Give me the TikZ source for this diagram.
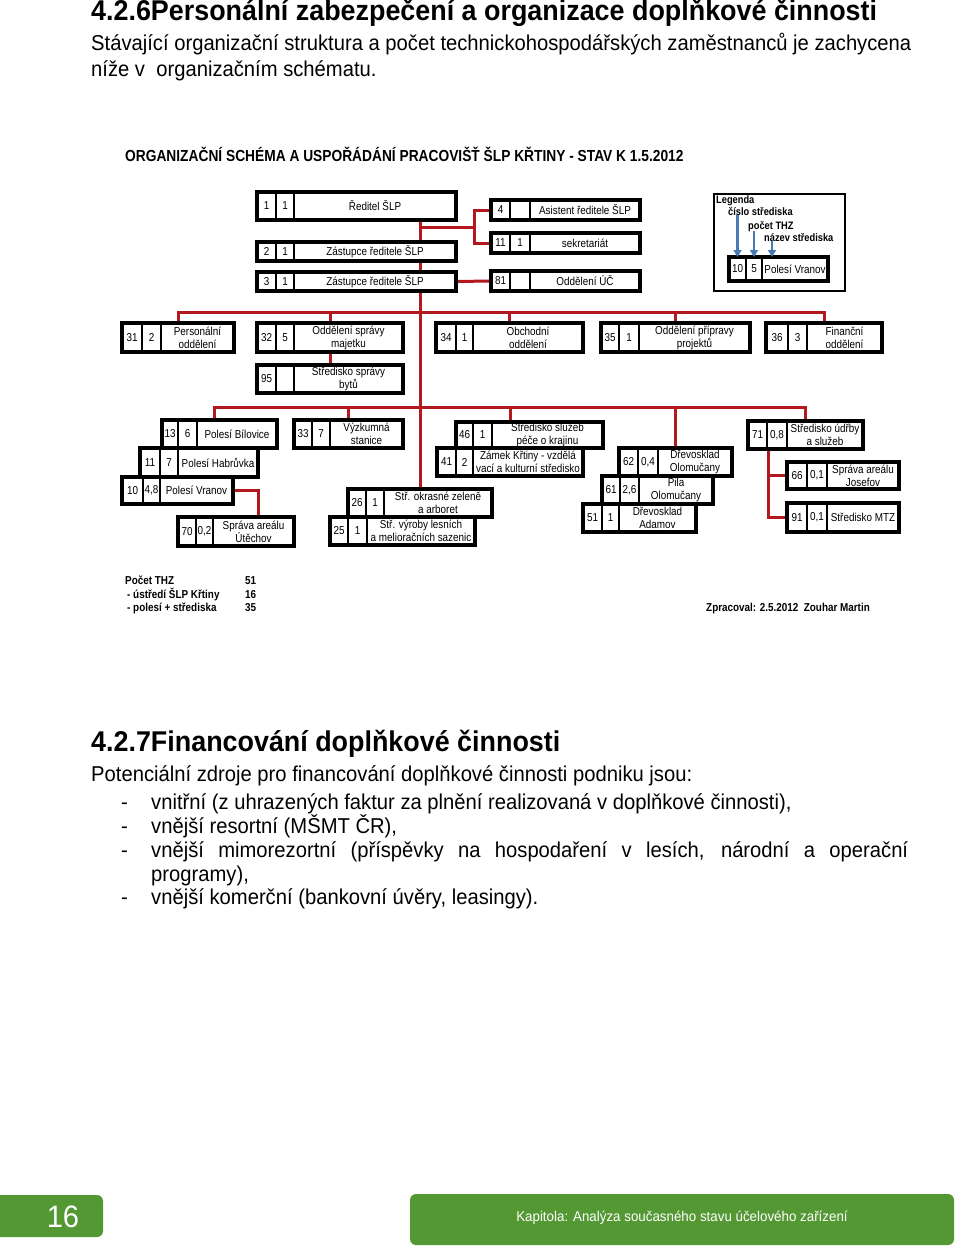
\documentclass[tikz,border=0pt]{standalone}
\usepackage{fontspec}
\setmainfont[FakeStretch=0.94]{Liberation Sans}
\newfontfamily\chartfont[FakeStretch=0.86]{Liberation Sans}
\usetikzlibrary{calc,fit,arrows.meta}
\definecolor{linkred}{RGB}{178,24,30}
\definecolor{legendblue}{RGB}{72,122,182}
\definecolor{pagegreen}{RGB}{84,152,52}
\pgfdeclarelayer{background}
\pgfsetlayers{background,main}

% one box of the chart: number | THZ | name
\def\cellsplit#1/#2/#3/#4\relax{\def\cxa{#1}\def\cxb{#2}\def\cxc{#3}\def\cxd{#4}}
\def\rowsplit#1/#2\relax{\def\cya{#1}\def\cyb{#2}}
\newcommand{\orgunit}[6]{%
  \cellsplit#2\relax\rowsplit#3\relax
  \coordinate (#1-nw) at (\cxa,\cya);
  \coordinate (#1-se) at (\cxd,\cyb);
  \node[unit,fit=(#1-nw)(#1-se)] (#1) {};
  \draw[divider] (\cxb,\cya) -- (\cxb,\cyb) (\cxc,\cya) -- (\cxc,\cyb);
  \node[cell] (#1-n) at ($(\cxa,\cya)!.5!(\cxb,\cyb)$) {#4};
  \node[cell] (#1-c) at ($(\cxb,\cya)!.5!(\cxc,\cyb)$) {#5};
  \node[cell] (#1-t) at ($(\cxc,\cya)!.5!(\cxd,\cyb)$) {#6};
}

\begin{document}
\begin{tikzpicture}[x=1pt,y=-1pt,>=Latex]
  \tikzset{
    unit/.style={draw=black,line width=3.4pt,fill=white,inner sep=0pt,outer sep=0pt},
    divider/.style={draw=black,line width=2pt},
    cell/.style={font=\chartfont\fontsize{11.5}{13}\selectfont,inner sep=0pt,align=center},
    link/.style={draw=linkred,line width=3pt},
    pointer/.style={draw=legendblue,line width=2.2pt,-{Triangle[width=8pt,length=7pt]}},
    body/.style={anchor=base west,inner sep=0pt,font=\fontsize{21.5}{25}\selectfont},
    heading/.style={anchor=base west,inner sep=0pt,font=\fontsize{28.6}{31}\selectfont\bfseries},
    chartnote/.style={anchor=base west,inner sep=0pt,font=\chartfont\fontsize{11.5}{13}\selectfont\bfseries},
    legtext/.style={chartnote,font=\chartfont\fontsize{10.8}{12}\selectfont\bfseries},
    greenbar/.style={fill=pagegreen,rounded corners=6pt,inner sep=0pt},
  }
  \useasboundingbox (0,0) rectangle (960,1247);

  % page text above the chart
  \node[heading] (h1) at (91,21) {4.2.6Personální zabezpečení a organizace doplňkové činnosti};
  \node[body] (p1) at (91,51) {Stávající organizační struktura a počet technickohospodářských zaměstnanců je zachycena};
  \node[body] (p2) at (91,76) {níže v\ \ organizačním schématu.};

  % chart
  \node[anchor=base west,inner sep=0pt,font=\chartfont\fontsize{16}{18}\selectfont\bfseries] (ctitle) at (125,161)
    {ORGANIZAČNÍ SCHÉMA A USPOŘÁDÁNÍ PRACOVIŠŤ ŠLP KŘTINY - STAV K 1.5.2012};

  \orgunit{dir}{257/276/294/456}{192/220}{1}{1}{Ředitel ŠLP}
  \orgunit{dep1}{257/276/294/456}{242/261}{2}{1}{Zástupce ředitele ŠLP}
  \orgunit{dep2}{257/276/294/456}{272/291}{3}{1}{Zástupce ředitele ŠLP}
  \orgunit{asst}{491/510/530/640}{200/220}{4}{}{Asistent ředitele ŠLP}
  \orgunit{secr}{491/510/530/640}{233/253}{11}{1}{sekretariát}
  \orgunit{acct}{491/510/530/640}{271/291}{81}{}{Oddělení ÚČ}

  \orgunit{pers}{122/142/161/234}{323/352}{31}{2}{Personální\\oddělení}
  \orgunit{prop}{257/276/294/403}{323/352}{32}{5}{Oddělení správy\\majetku}
  \orgunit{flat}{257/276/294/403}{365/393}{95}{}{Středisko správy\\bytů}
  \orgunit{trade}{436/456/473/583}{323/352}{34}{1}{Obchodní\\oddělení}
  \orgunit{proj}{601/619/639/750}{323/352}{35}{1}{Oddělení přípravy\\projektů}
  \orgunit{fin}{766/788/807/882}{323/352}{36}{3}{Finanční\\oddělení}

  \orgunit{bil}{162/178/197/277}{420/448}{13}{6}{Polesí Bílovice}
  \orgunit{hab}{140/160/178/258}{448/477}{11}{7}{Polesí Habrůvka}
  \orgunit{vra}{122/143/160/233}{477/504}{10}{4,8}{Polesí Vranov}
  \orgunit{ute}{178/196/213/294}{517/546}{70}{0,2}{Správa areálu\\Útěchov}
  \orgunit{vyz}{294/312/330/403}{420/448}{33}{7}{Výzkumná\\stanice}
  \orgunit{okr}{348/366/384/492}{489/517}{26}{1}{Stř. okrasné zeleně\\a arboret}
  \orgunit{sad}{330/348/367/475}{517/545}{25}{1}{Stř. výroby lesních\\a melioračních sazenic}
  \orgunit{kraj}{456/473/492/603}{422/448}{46}{1}{Středisko služeb\\péče o krajinu}
  \orgunit{zam}{437/456/473/583}{448/476}{41}{2}{Zámek Křtiny - vzdělá\\vací a kulturní středisko}
  \orgunit{dolo}{619/638/658/732}{448/476}{62}{0,4}{Dřevosklad\\Olomučany}
  \orgunit{pila}{602/620/639/713}{476/504}{61}{2,6}{Pila\\Olomučany}
  \orgunit{dada}{583/602/619/696}{504/532}{51}{1}{Dřevosklad\\Adamov}
  \orgunit{udr}{748/767/787/863}{421/449}{71}{0,8}{Středisko údřby\\a služeb}
  \orgunit{jos}{787/807/827/899}{462/489}{66}{0,1}{Správa areálu\\Josefov}
  \orgunit{mtz}{787/807/827/899}{503/532}{91}{0,1}{Středisko MTZ}

  % legend
  \coordinate (lg-nw) at (714,194);
  \coordinate (lg-se) at (845,291);
  \node[draw=black,line width=1.4pt,inner sep=0pt,fit=(lg-nw)(lg-se)] (legend) {};
  \node[legtext] (lgT) at (716,203) {Legenda};
  \node[legtext] (lgA) at (728,215) {číslo střediska};
  \node[legtext] (lgB) at (748,229) {počet THZ};
  \node[legtext] (lgC) at (764,241) {název střediska};
  \orgunit{lgd}{729/746/762/828}{257/281}{10}{5}{Polesí Vranov}
  \draw[pointer] (lgd-n |- lgA.south) -- (lgd-n |- lgd.north);
  \draw[pointer] (lgd-c |- lgB.south) -- (lgd-c |- lgd.north);
  \draw[pointer] ([xshift=8pt]lgC.south west) -- ([xshift=8pt]lgC.south west |- lgd.north);

  % red connectors behind the boxes
  \coordinate (spine) at (420,0);
  \coordinate (fork) at (474,227);
  \coordinate (busB) at (0,312);
  \coordinate (busC) at (0,407);
  \coordinate (svc) at (768,0);
  \begin{pgfonlayer}{background}
    \fill[white] (0,0) rectangle (960,1247);
    \draw[link] (dir.south -| spine) -- (okr.north -| spine);
    \draw[link] (asst.west) -| (fork) |- (secr.west);
    \draw[link] (fork) -- (fork -| spine);
    \draw[link] (dep2.east) -- (acct.west);
    \draw[link] (pers.north) |- (fin.north |- busB) -- (fin.north);
    \foreach \u in {prop,trade,proj}
      \draw[link] (\u.north) -- (\u.north |- busB);
    \draw[link] (prop.south) -- (flat.north);
    \draw[link] ([xshift=-5pt]bil.north) |- (udr.north |- busC) -- (udr.north);
    \draw[link] (vyz.north) -- (vyz.north |- busC);
    \draw[link] (zam.north |- kraj.north) -- (zam.north |- busC);
    \draw[link] (dolo.north) -- (dolo.north |- busC);
    \draw[link] (vra.east) -| (hab.east |- ute.north);
    \draw[link] (udr.south -| svc) |- (mtz.west);
    \draw[link] (jos.west) -- (jos.west -| svc);
  \end{pgfonlayer}

  % totals
  \node[chartnote] (sumA) at (125,584) {Počet THZ};
  \node[chartnote] (sumB) at (127,598) {- ústředí ŠLP Křtiny};
  \node[chartnote] (sumC) at (127,611) {- polesí + střediska};
  \node[chartnote] (sumAn) at (245,584) {51};
  \node[chartnote] (sumBn) at (245,598) {16};
  \node[chartnote] (sumCn) at (245,611) {35};
  \node[chartnote] (author) at (706,611) {Zpracoval: 2.5.2012\ \ Zouhar Martin};

  % page text below the chart
  \node[heading] (h2) at (91,751) {4.2.7Financování doplňkové činnosti};
  \node[body] (p3) at (91,781) {Potenciální zdroje pro financování doplňkové činnosti podniku jsou:};
  \foreach \y/\t [count=\i] in {809/{vnitřní (z uhrazených faktur za plnění realizovaná v doplňkové činnosti),},
                                833/{vnější resortní (MŠMT ČR),},
                                904/{vnější komerční (bankovní úvěry, leasingy).}}
    \node[body] (item\i) at (151,\y) {\t};
  \node[body] (item4) at (151,857) {\makebox[757pt][s]{vnější mimorezortní (příspěvky na hospodaření v lesích, národní a operační}};
  \node[body] (item5) at (151,881) {programy),};
  \foreach \y [count=\i] in {809,833,857,904}
    \node[body] (dash\i) at (121,\y) {-};

  % footer
  \coordinate (pg-nw) at (-10,1195);
  \coordinate (pg-se) at (103,1237);
  \node[greenbar,fit=(pg-nw)(pg-se)] (pagebox) {};
  \node[text=white,font=\fontsize{31}{33}\selectfont] (pagenum) at (63,1217) {16};
  \coordinate (ch-nw) at (410,1194);
  \coordinate (ch-se) at (954,1245);
  \node[greenbar,fit=(ch-nw)(ch-se)] (chapbox) {};
  \node[text=white,font=\fontsize{14.2}{16}\selectfont] (chapter) at (682,1218) {Kapitola: Analýza současného stavu účelového zařízení};
\end{tikzpicture}
\end{document}
